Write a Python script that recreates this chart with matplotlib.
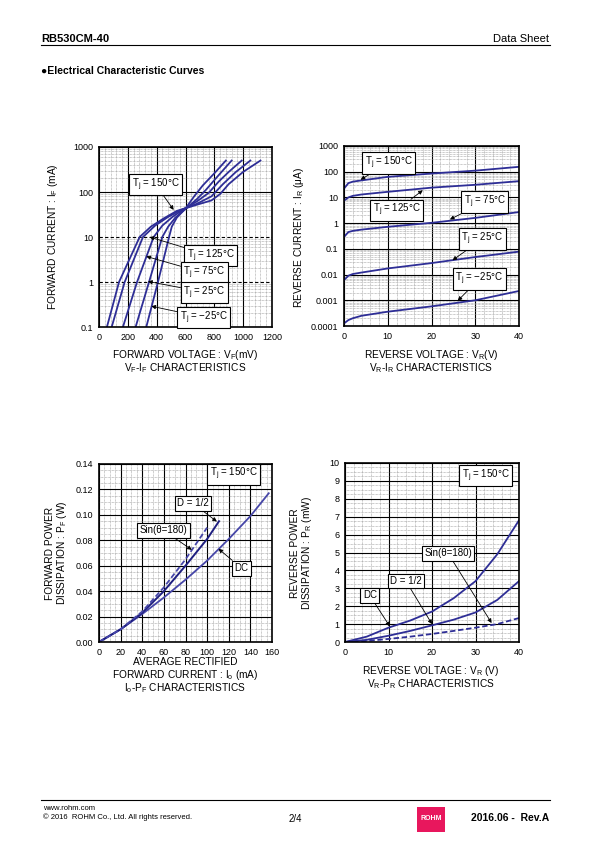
import matplotlib
matplotlib.use("Agg")
import matplotlib.pyplot as plt
from matplotlib.ticker import MultipleLocator, FixedLocator, LogLocator, NullFormatter, FormatStrFormatter
from matplotlib.patches import Rectangle

plt.rcParams['font.family'] = ['Liberation Sans', 'DejaVu Sans']
plt.rcParams['mathtext.default'] = 'regular'

# --- VF-IF data (mV, mA) ---
vf_150 = [55, 139, 282, 360, 450, 540, 660, 780, 840, 900, 1000, 1120]
if_150 = [0.1, 1, 10, 17, 26, 38, 50, 65, 90, 150, 280, 500]
vf_125 = [88, 178, 305, 390, 480, 570, 680, 780, 860, 950, 1050]
if_125 = [0.1, 1, 10, 18, 28, 40, 55, 80, 150, 280, 500]
vf_75 = [166, 264, 379, 440, 510, 590, 680, 760, 830, 900, 990]
if_75 = [0.1, 1, 10, 18, 28, 42, 62, 95, 170, 280, 500]
vf_25 = [254, 347, 439, 480, 530, 600, 680, 740, 810, 920]
if_25 = [0.1, 1, 10, 17, 27, 42, 70, 110, 200, 500]
vf_m25 = [328, 409, 486, 505, 540, 600, 660, 720, 800, 880]
if_m25 = [0.1, 1, 10, 17, 27, 43, 80, 140, 260, 500]

# --- VR-IR data (V, uA) ---
vr = [0, 1, 2, 4, 10, 20, 30, 40]
ir_150 = [22, 36, 41, 46, 63, 85, 110, 155]
ir_125 = [7.5, 10, 11.5, 13, 16.5, 24, 31, 43]
ir_75 = [0.29, 0.45, 0.5, 0.56, 0.72, 1.03, 1.6, 2.7]
ir_25 = [0.0061, 0.009, 0.0105, 0.012, 0.0173, 0.028, 0.048, 0.078]
ir_m25 = [0.000126, 0.00017, 0.0002, 0.00025, 0.00036, 0.00058, 0.001, 0.0023]

# --- Io-PF data (mA, W) ---
io_dc = [0, 20, 40, 60, 80, 100, 120, 140, 157]
pf_dc = [0, 0.010, 0.022, 0.035, 0.049, 0.064, 0.081, 0.099, 0.117]
io_half = [0, 20, 40, 60, 80, 100, 111]
pf_half = [0, 0.010, 0.023, 0.040, 0.060, 0.081, 0.095]
io_sin = [0, 20, 40, 60, 80, 100]
pf_sin = [0, 0.010, 0.024, 0.043, 0.065, 0.090]

# --- VR-PR data (V, mW) ---
vr_p = [0, 5, 10, 15, 20, 25, 30, 35, 40]
pr_dc = [0, 0.3, 0.8, 1.2, 1.7, 2.45, 3.4, 4.9, 6.8]
pr_half = [0, 0.12, 0.35, 0.62, 0.93, 1.25, 1.65, 2.35, 3.4]
pr_sin = [0, 0.06, 0.17, 0.3, 0.45, 0.62, 0.8, 1.0, 1.34]

LINE = '#2e2e96'
LINE2 = '#4646a8'

W, H = 595, 842
fig = plt.figure(figsize=(W / 100, H / 100), dpi=100)


def box(l, t, r, b):
    return [l / W, 1 - b / H, (r - l) / W, (b - t) / H]


def style(ax):
    for s in ax.spines.values():
        s.set_linewidth(1.2)
        s.set_color('black')
    ax.tick_params(which='both', length=0, labelsize=6.5, pad=4)
    ax.grid(which='major', color='black', linewidth=0.8)
    ax.grid(which='minor', color='#9a9a9a', linewidth=0.5, linestyle=(0, (1, 1)))
    ax.set_axisbelow(True)


def label(ax, text, xy, xytext, ha='center'):
    bb = dict(boxstyle='square,pad=0.25', fc='white', ec='black', lw=0.8)
    if xy is None:
        ax.text(xytext[0], xytext[1], text, fontsize=7, ha=ha, va='center', bbox=bb, zorder=5)
    else:
        ax.annotate(text, xy=xy, xytext=xytext, fontsize=7, ha=ha, va='center', bbox=bb,
                    arrowprops=dict(arrowstyle='-|>', color='black', lw=0.6, mutation_scale=6,
                                    shrinkA=0, shrinkB=0), zorder=5)


def ftext(x, y, s, **kw):
    kw.setdefault('fontsize', 7.3)
    fig.text(x / W, 1 - y / H, s, ha='center', va='center', **kw)


# ---------- chart 1: VF-IF ----------
ax1 = fig.add_axes(box(99, 147, 272, 327))
for x, y in [(vf_150, if_150), (vf_125, if_125), (vf_75, if_75), (vf_25, if_25), (vf_m25, if_m25)]:
    ax1.plot(x, y, color=LINE, lw=1.3)
ax1.set_yscale('log')
ax1.set_xlim(0, 1200)
ax1.set_ylim(0.1, 1000)
ax1.xaxis.set_major_locator(MultipleLocator(200))
ax1.xaxis.set_minor_locator(MultipleLocator(40))
ax1.yaxis.set_major_locator(FixedLocator([0.1, 1, 10, 100, 1000]))
ax1.yaxis.set_minor_locator(LogLocator(base=10, subs=range(2, 10)))
ax1.yaxis.set_minor_formatter(NullFormatter())
ax1.set_yticklabels(['0.1', '1', '10', '100', '1000'])
style(ax1)
for gl, v in zip(ax1.get_ygridlines(), [0.1, 1, 10, 100, 1000]):
    if v in (1, 10):
        gl.set_linestyle((0, (3, 2)))
label(ax1, 'T$_j$ = 150\u00b0C', (518, 40), (393, 146))
label(ax1, 'T$_j$ = 125\u00b0C', (351, 10), (775, 3.85))
label(ax1, 'T$_j$ = 75\u00b0C', (328, 3.7), (733, 1.58))
label(ax1, 'T$_j$ = 25\u00b0C', (340, 1.03), (733, 0.59))
label(ax1, 'T$_j$ = \u221225\u00b0C', (363, 0.29), (726, 0.164))
ftext(185, 355, 'FORWARD VOLTAGE : V$_F$(mV)')
ftext(185, 368, 'V$_F$-I$_F$ CHARACTERISTICS')
ftext(53, 237, 'FORWARD CURRENT : I$_F$ (mA)', rotation=90)

# ---------- chart 2: VR-IR ----------
ax2 = fig.add_axes(box(344, 146, 519, 326))
for y in [ir_150, ir_125, ir_75, ir_25, ir_m25]:
    ax2.plot(vr, y, color=LINE, lw=1.3)
ax2.set_yscale('log')
ax2.set_xlim(0, 40)
ax2.set_ylim(0.0001, 1000)
ax2.xaxis.set_major_locator(MultipleLocator(10))
ax2.xaxis.set_minor_locator(MultipleLocator(2))
yt2 = [0.0001, 0.001, 0.01, 0.1, 1, 10, 100, 1000]
ax2.yaxis.set_major_locator(FixedLocator(yt2))
ax2.yaxis.set_minor_locator(LogLocator(base=10, subs=range(2, 10)))
ax2.yaxis.set_minor_formatter(NullFormatter())
ax2.set_yticklabels(['0.0001', '0.001', '0.01', '0.1', '1', '10', '100', '1000'])
style(ax2)
label(ax2, 'T$_j$ = 150\u00b0C', (3.8, 49), (10.2, 219))
label(ax2, 'T$_j$ = 125\u00b0C', (18, 19), (12, 3.17))
label(ax2, 'T$_j$ = 75\u00b0C', (24.2, 1.39), (32.2, 6.7))
label(ax2, 'T$_j$ = 25\u00b0C', (24.8, 0.036), (31.6, 0.24))
label(ax2, 'T$_j$ = \u221225\u00b0C', (26, 0.00096), (30.9, 0.0067))
ftext(431, 355, 'REVERSE VOLTAGE : V$_R$(V)')
ftext(431, 368, 'V$_R$-I$_R$ CHARACTERISTICS')
ftext(299, 237, 'REVERSE CURRENT : I$_R$ (\u03bcA)', rotation=90)

# ---------- chart 3: Io-PF ----------
ax3 = fig.add_axes(box(99, 464, 272, 642))
ax3.plot(io_dc, pf_dc, color=LINE2, lw=1.3)
ax3.plot(io_half, pf_half, color='#1e1e80', lw=1.4)
ax3.plot(io_sin, pf_sin, color=LINE2, lw=1.3, linestyle=(0, (3, 1.5)))
ax3.set_xlim(0, 160)
ax3.set_ylim(0, 0.14)
ax3.xaxis.set_major_locator(MultipleLocator(20))
ax3.xaxis.set_minor_locator(MultipleLocator(5))
ax3.yaxis.set_major_locator(MultipleLocator(0.02))
ax3.yaxis.set_minor_locator(MultipleLocator(0.005))
ax3.yaxis.set_major_formatter(FormatStrFormatter('%.2f'))
style(ax3)
label(ax3, 'T$_j$ = 150\u00b0C', None, (124.5, 0.132))
label(ax3, 'D = 1/2', (109, 0.0947), (87, 0.109))
label(ax3, 'Sin(\u03b8=180)', (85.8, 0.0725), (59.4, 0.088))
label(ax3, 'DC', (110.5, 0.0733), (132, 0.058))
ftext(185, 662, 'AVERAGE RECTIFIED')
ftext(185, 675, 'FORWARD CURRENT : I$_o$ (mA)')
ftext(185, 688, 'I$_o$-P$_F$ CHARACTERISTICS')
ftext(50, 553, 'FORWARD POWER', rotation=90)
ftext(62, 553, 'DISSIPATION : P$_F$ (W)', rotation=90)

# ---------- chart 4: VR-PR ----------
ax4 = fig.add_axes(box(345, 463, 519, 642))
ax4.plot(vr_p, pr_dc, color=LINE, lw=1.3)
ax4.plot(vr_p, pr_half, color=LINE, lw=1.3)
ax4.plot(vr_p, pr_sin, color=LINE, lw=1.3, linestyle=(0, (3, 1.5)))
ax4.set_xlim(0, 40)
ax4.set_ylim(0, 10)
ax4.xaxis.set_major_locator(MultipleLocator(10))
ax4.xaxis.set_minor_locator(MultipleLocator(2))
ax4.yaxis.set_major_locator(MultipleLocator(1))
ax4.yaxis.set_minor_locator(MultipleLocator(0.25))
style(ax4)
label(ax4, 'T$_j$ = 150\u00b0C', None, (32.3, 9.31))
label(ax4, 'Sin(\u03b8=180)', (33.7, 1.06), (23.7, 4.95))
label(ax4, 'D = 1/2', (20, 1.0), (14, 3.41))
label(ax4, 'DC', (10.3, 0.87), (5.7, 2.6))
ftext(431, 671, 'REVERSE VOLTAGE : V$_R$ (V)')
ftext(431, 684, 'V$_R$-P$_R$ CHARACTERISTICS')
ftext(295, 553, 'REVERSE POWER', rotation=90)
ftext(307, 553, 'DISSIPATION : P$_R$ (mW)', rotation=90)

# ---------- page header / footer ----------
fig.text(41 / W, 1 - 39 / H, 'RB530CM-40', fontsize=8, fontweight='bold', va='center')
fig.text(549 / W, 1 - 39 / H, 'Data Sheet', fontsize=8, ha='right', va='center')
fig.add_artist(plt.Line2D([41 / W, 550 / W], [1 - 45 / H, 1 - 45 / H], color='black', lw=0.8))
fig.text(41 / W, 1 - 71 / H, '\u25cfElectrical Characteristic Curves', fontsize=7.5, fontweight='bold', va='center')
fig.add_artist(plt.Line2D([41 / W, 550 / W], [1 - 800 / H, 1 - 800 / H], color='black', lw=0.8))
fig.text(43 / W, 1 - 808 / H, 'www.rohm.com', fontsize=5.5, va='center')
fig.text(43 / W, 1 - 817 / H, '\u00a9 2016  ROHM Co., Ltd. All rights reserved.', fontsize=5.5, va='center')
fig.text(295 / W, 1 - 819 / H, '2/4', fontsize=7, ha='center', va='center')
fig.add_artist(Rectangle((417 / W, 1 - 832 / H), 28 / W, 25 / H, transform=fig.transFigure,
                         facecolor='#e8175d', edgecolor='none'))
fig.text(431 / W, 1 - 819 / H, 'ROHM', fontsize=5, fontweight='bold', color='white', ha='center', va='center')
fig.text(549 / W, 1 - 818 / H, '2016.06 -  Rev.A', fontsize=7.5, fontweight='bold', ha='right', va='center')

fig.savefig('out.png', dpi=100)
